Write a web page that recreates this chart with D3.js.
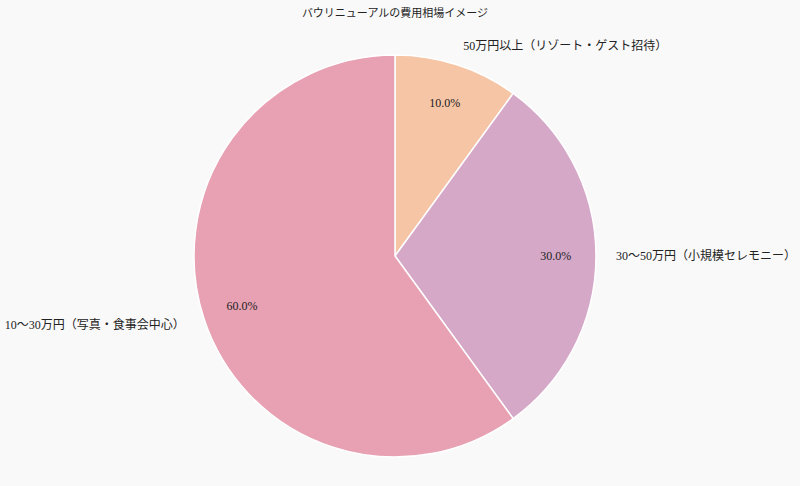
<!DOCTYPE html>
<html>
<head>
<meta charset="utf-8">
<script src="https://cdn.jsdelivr.net/npm/d3@7"></script>
<style>
  body { margin: 0; background: #f9f9f9; }
  svg { display: block; }
  text { font-family: "Liberation Serif", "DejaVu Serif", "Noto Sans CJK JP", serif; fill: #222; }
</style>
</head>
<body>
<div id="chart"></div>
<script>
// chart data
const title = "バウリニューアルの費用相場イメージ";
const categories = ["50万円以上（リゾート・ゲスト招待）", "30〜50万円（小規模セレモニー）", "10〜30万円（写真・食事会中心）"];
const shares = [10, 30, 60];
const colors = ["#f5c5a5", "#d5a8c8", "#e8a0b3"];

const width = 800;
const height = 486;
const cx = 395, cy = 256, radius = 201;

const svg = d3.select("#chart")
    .append("svg")
    .attr("width", width)
    .attr("height", height);

svg.append("rect")
    .attr("width", width)
    .attr("height", height)
    .attr("fill", "#f9f9f9");

// title
svg.append("text")
    .attr("x", cx)
    .attr("y", 17)
    .attr("text-anchor", "middle")
    .style("font-size", "11px")
    .text(title);

const g = svg.append("g")
    .attr("transform", `translate(${cx}, ${cy})`);

const data = categories.map((c, i) => ({ label: c, value: shares[i], color: colors[i] }));

// clockwise from the top, in the given order
const pie = d3.pie()
    .value(d => d.value)
    .sort(null);

const arcs = pie(data);
const total = d3.sum(shares);

const arc = d3.arc()
    .innerRadius(0)
    .outerRadius(radius);

g.selectAll("path")
    .data(arcs)
    .enter()
    .append("path")
    .attr("d", arc)
    .attr("fill", d => d.data.color)
    .attr("stroke", "#ffffff")
    .attr("stroke-width", 1.5);

// percentages at 0.8 r
const pctArc = d3.arc().innerRadius(radius * 0.8).outerRadius(radius * 0.8);
g.selectAll(".pct")
    .data(arcs)
    .enter()
    .append("text")
    .attr("class", "pct")
    .attr("transform", d => `translate(${pctArc.centroid(d)})`)
    .attr("text-anchor", "middle")
    .attr("dy", "0.35em")
    .style("font-size", "12px")
    .text(d => (d.data.value / total * 100).toFixed(1) + "%");

// category labels at 1.1 r
const labelArc = d3.arc().innerRadius(radius * 1.1).outerRadius(radius * 1.1);
g.selectAll(".label")
    .data(arcs)
    .enter()
    .append("text")
    .attr("class", "label")
    .attr("transform", d => `translate(${labelArc.centroid(d)})`)
    .attr("text-anchor", d => {
        const mid = (d.startAngle + d.endAngle) / 2;
        return Math.sin(mid) >= 0 ? "start" : "end";
    })
    .attr("dy", "0.35em")
    .style("font-size", "12px")
    .text(d => d.data.label);
</script>
</body>
</html>
